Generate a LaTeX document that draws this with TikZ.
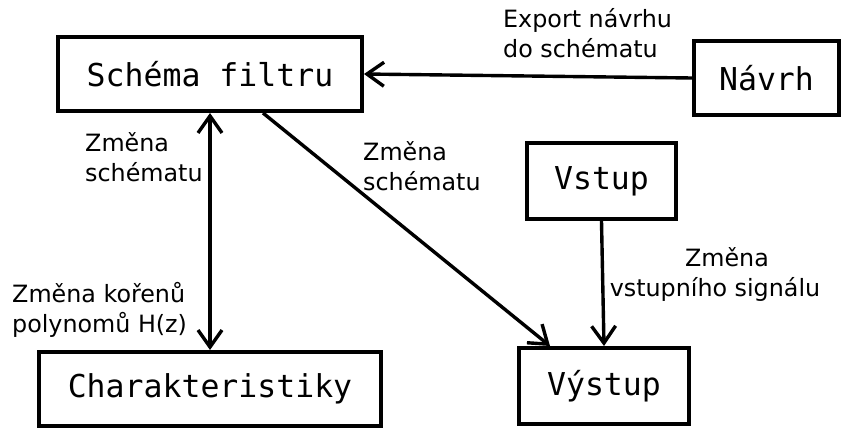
\documentclass[tikz,border=0pt]{standalone}
\usepackage{fontspec}
\setmainfont{DejaVu Sans}
\newfontfamily\boxfont{DejaVu Sans Mono}
\usetikzlibrary{arrows.meta}
\begin{document}
\begin{tikzpicture}[x=1pt,y=-1pt,
  box/.style={draw, line width=4pt, font=\boxfont\fontsize{31.5}{36}\selectfont, inner sep=0pt, minimum height=74pt},
  lbl/.style={font=\fontsize{23.8}{30}\selectfont, inner sep=0pt},
  tip/.tip={Straight Barb[length=17pt,width=24pt]},
  arr/.style={line width=3.4pt, -tip},
  darr/.style={line width=3.4pt, tip-tip}]
\useasboundingbox (0,0) rectangle (844,428);

\node[box, minimum width=304pt] (sf) at (210,74) {Schéma filtru};
\node[box, minimum width=145pt] (navrh) at (766.5,78) {Návrh};
\node[box, minimum width=149pt, minimum height=76pt] (vstup) at (601.5,181) {Vstup};
\node[box, minimum width=170pt, minimum height=76pt] (vystup) at (604,386) {Výstup};
\node[box, minimum width=342pt] (char) at (210,389) {Charakteristiky};

\draw[arr] (navrh.west) -- (sf.east);
\draw[darr] (sf.south) -- (char.north);
\draw[arr] ([xshift=53pt]sf.south) -- ([xshift=-54pt]vystup.north);
\draw[arr] (vstup.south) -- (vystup.north);

\node[lbl, anchor=base west, align=left] (lexp) at (503,58) {Export návrhu\\do schématu};
\node[lbl, anchor=base west, align=left] (lzs1) at (85,181) {Změna\\schématu};
\node[lbl, anchor=base west, align=left] (lzk) at (12,332) {Změna kořenů\\polynomů H(z)};
\node[lbl, anchor=base west, align=left] (lzs2) at (363,190) {Změna\\schématu};
\node[lbl, anchor=base, align=center] (lzv) at (715,296) {\hspace*{24pt}Změna\\vstupního signálu};
\end{tikzpicture}
\end{document}
